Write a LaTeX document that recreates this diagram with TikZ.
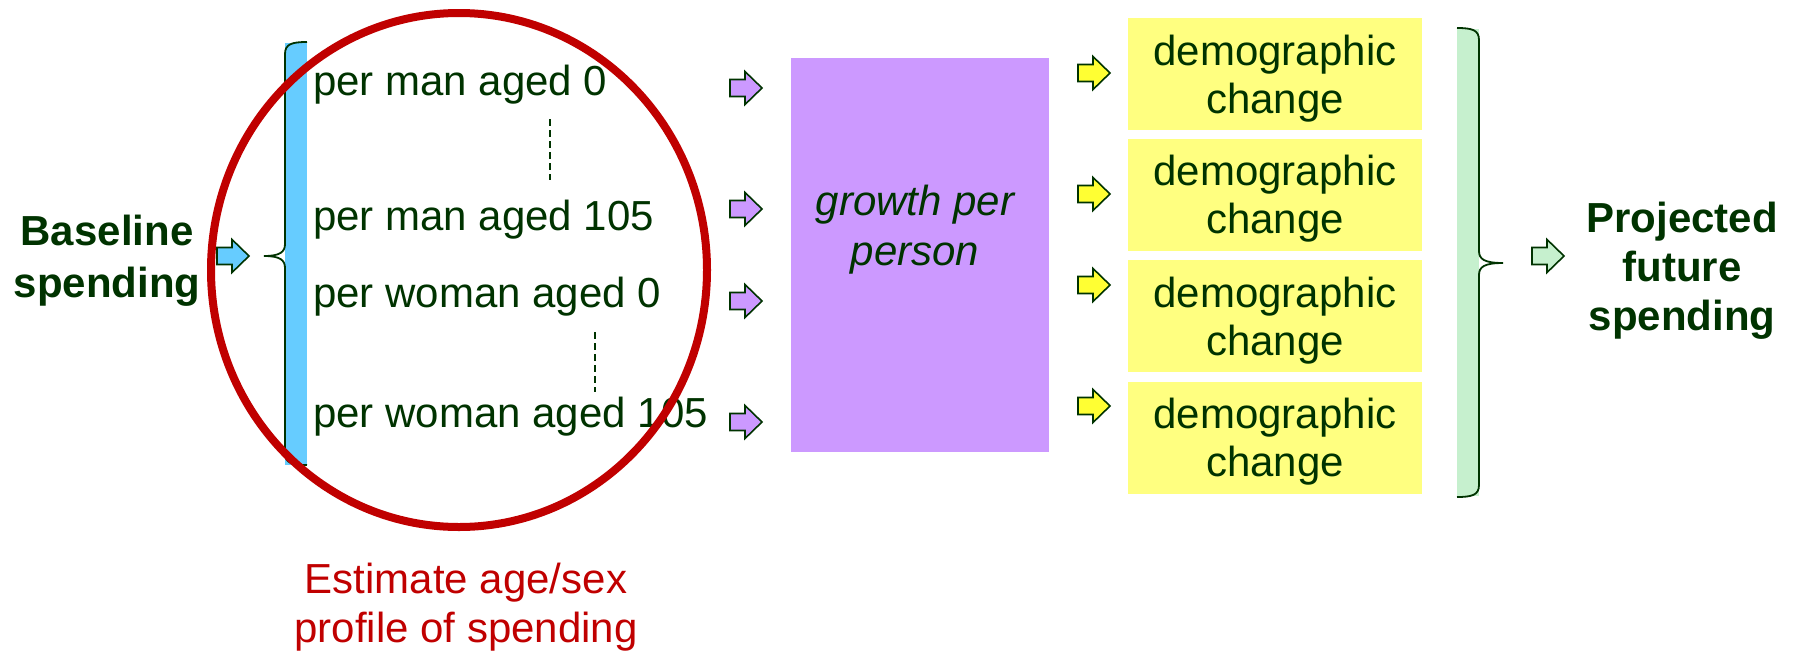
\documentclass[tikz,border=0pt]{standalone}
\usepackage{fontspec}
\setmainfont{Liberation Sans}
\definecolor{dkgreen}{RGB}{0,51,0}
\definecolor{redc}{RGB}{192,0,0}
\definecolor{bluef}{RGB}{102,204,255}
\definecolor{purf}{RGB}{204,153,255}
\definecolor{yelbox}{RGB}{255,255,128}
\definecolor{yelarr}{RGB}{255,255,51}
\definecolor{mint}{RGB}{198,240,206}
\tikzset{
  txt/.style={text=dkgreen, inner sep=0pt, font=\fontsize{42}{43}\selectfont},
  boldtxt/.style={txt, align=center, font=\fontsize{42}{50}\selectfont\bfseries},
  demobox/.style={fill=yelbox, minimum width=294, minimum height=112, inner sep=0pt},
  demotxt/.style={txt, align=center, anchor=base, font=\fontsize{42}{48}\selectfont},
  bracestyle/.style={draw=dkgreen, line width=1.8},
  dashv/.style={draw=dkgreen, line width=1.5, dash pattern=on 7 off 4},
  pics/barrow/.style={code={
    \draw[draw=dkgreen, line width=1.6, fill=#1, line join=miter]
      (0,-8.5) -- (15,-8.5) -- (15,-16.5) -- (32,0) -- (15,16.5) -- (15,8.5) -- (0,8.5) -- cycle;
    \coordinate (-tip) at (32,0);
  }}
}
\begin{document}
\begin{tikzpicture}[x=1pt,y=-1pt]
\useasboundingbox (0,0) rectangle (1800,651);

% Baseline spending (base anchor = last line)
\node[boldtxt, anchor=base, font=\fontsize{42}{52}\selectfont\bfseries] (base) at (107,297) {Baseline\\spending};
\pic (ab) at (217,256) {barrow=bluef};

% left brace with blue fill
\fill[bluef] (285,43) rectangle (307,465);
\draw[bracestyle] (307,42) .. controls (292,42) and (285,44) .. (285,54) -- (285,244)
  .. controls (285,252) and (280,256) .. (264,256)
  .. controls (280,256) and (285,260) .. (285,268) -- (285,453)
  .. controls (285,463) and (292,465) .. (307,465);
\coordinate (lbtip) at (264,256);

% profile texts
\node[txt, anchor=base west] (m0) at (313,95) {per man aged 0};
\node[txt, anchor=base west] (m105) at (313,230) {per man aged 105};
\node[txt, anchor=base west] (w0) at (313,307) {per woman aged 0};
\node[txt, anchor=base west] (w105) at (313,427) {per woman aged 105};
\coordinate (d1a) at (550,119); \coordinate (d1b) at (550,180);
\coordinate (d2a) at (595,332); \coordinate (d2b) at (595,392);
\draw[dashv] (d1a) -- (d1b);
\draw[dashv] (d2a) -- (d2b);

% red ellipse
\draw[redc, line width=8] (459,270) ellipse [x radius=248, y radius=257];
\node[txt, text=redc, anchor=base, align=center, font=\fontsize{42}{49}\selectfont] (est) at (466,642) {Estimate age/sex\\profile of spending};

% purple arrows
\pic (p1) at (730,88) {barrow=purf};
\pic (p2) at (730,209) {barrow=purf};
\pic (p3) at (730,301) {barrow=purf};
\pic (p4) at (730,422) {barrow=purf};

% growth box
\node[fill=purf, minimum width=258, minimum height=394, inner sep=0pt] (grow) at (920,255) {};
\node[txt, anchor=base, align=center, font=\fontsize{42}{50}\selectfont\itshape] (growt) at (915,265) {growth per\\person};

% yellow arrows
\pic (y1) at (1078,73) {barrow=yelarr};
\pic (y2) at (1078,194) {barrow=yelarr};
\pic (y3) at (1078,285) {barrow=yelarr};
\pic (y4) at (1078,406) {barrow=yelarr};

% demographic boxes
\node[demobox] (dc1) at (1275,73.5) {};
\node[demobox] (dc2) at (1275,194.5) {};
\node[demobox] (dc3) at (1275,316) {};
\node[demobox] (dc4) at (1275,437.5) {};
\node[demotxt] (dt1) at (dc1.center) [yshift=-39.5] {demographic\\change};
\node[demotxt] (dt2) at (dc2.center) [yshift=-38.5] {demographic\\change};
\node[demotxt] (dt3) at (dc3.center) [yshift=-39] {demographic\\change};
\node[demotxt] (dt4) at (dc4.center) [yshift=-39] {demographic\\change};

% right brace with mint fill
\fill[mint] (1457,29) rectangle (1479,496);
\draw[bracestyle] (1457,28) .. controls (1472,28) and (1479,30) .. (1479,40) -- (1479,251)
  .. controls (1479,259) and (1484,263) .. (1503,263)
  .. controls (1484,263) and (1479,267) .. (1479,275) -- (1479,485)
  .. controls (1479,495) and (1472,497) .. (1457,497);
\coordinate (rbtip) at (1503,263);

\pic (ag) at (1532,256) {barrow=mint};
\node[boldtxt, anchor=base, font=\fontsize{42}{49}\selectfont\bfseries] (proj) at (1682,330) {Projected\\future\\spending};
\end{tikzpicture}
\end{document}
